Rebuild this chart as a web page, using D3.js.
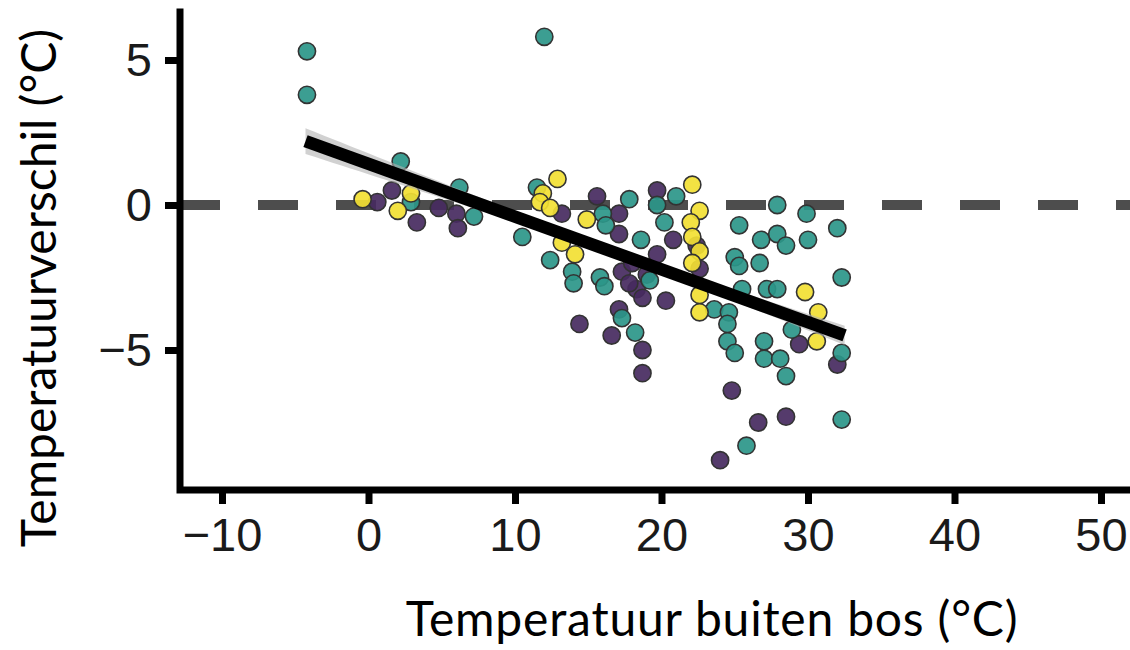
<!DOCTYPE html>
<html>
<head>
<meta charset="utf-8">
<script src="https://cdn.jsdelivr.net/npm/d3@7"></script>
<style>
  body { margin: 0; background: #fff; }
  svg { display: block; }
</style>
</head>
<body>
<svg id="chart" width="1130" height="650"></svg>
<script>
// Axis ticks
const xTicks = [-10, 0, 10, 20, 30, 40, 50];
const yTicks = [-5, 0, 5];

// Measurements per group: [temperature outside forest, temperature difference]
const purplePts = [
  [0.6, 0.1], [1.6, 0.5], [3.3, -0.6], [4.8, -0.1], [6.0, -0.3], [6.1, -0.8],
  [13.2, -0.3], [15.6, 0.3], [17.1, -0.3], [19.7, 0.5], [17.1, -1.0], [20.8, -1.2],
  [19.7, -1.7], [17.3, -2.3], [18.3, -2.9], [18.7, -3.2], [20.3, -3.3], [17.1, -3.6],
  [14.4, -4.1], [16.6, -4.5], [18.7, -5.0], [18.7, -5.8], [24.8, -6.4], [26.6, -7.5],
  [28.5, -7.3], [24.0, -8.8], [29.4, -4.8], [32.0, -5.5], [22.4, -1.4], [22.6, -2.2],
  [18.0, -2.0], [19.0, -2.4], [17.8, -2.7]
];
const tealPts = [
  [-4.2, 5.3], [-4.2, 3.8], [12.0, 5.8], [2.2, 1.5], [2.9, 0.1], [6.2, 0.6],
  [7.2, -0.4], [10.5, -1.1], [11.5, 0.6], [12.4, -1.9], [16.0, -0.3], [16.2, -0.7],
  [17.8, 0.2], [19.7, 0.0], [21.0, 0.3], [20.2, -0.6], [18.6, -1.2], [13.9, -2.3],
  [14.0, -2.7], [15.8, -2.5], [16.1, -2.8], [19.2, -2.6], [17.3, -3.9], [18.2, -4.4],
  [23.6, -3.6], [24.6, -3.7], [24.5, -4.1], [24.5, -4.7], [25.0, -5.1], [25.8, -8.3],
  [32.3, -7.4], [27.9, 0.0], [29.9, -0.3], [32.0, -0.8], [25.3, -0.7], [26.8, -1.2],
  [27.9, -1.0], [28.5, -1.4], [30.0, -1.2], [25.0, -1.8], [25.3, -2.1], [26.7, -2.0],
  [32.3, -2.5], [25.5, -2.9], [27.2, -2.9], [27.9, -2.9], [28.9, -4.3], [27.0, -4.7],
  [27.0, -5.3], [28.1, -5.3], [28.5, -5.9], [32.3, -5.1]
];
const yellowPts = [
  [-0.4, 0.2], [2.9, 0.4], [2.0, -0.2], [12.9, 0.9], [11.9, 0.4], [11.7, 0.1],
  [12.4, -0.1], [14.9, -0.5], [13.2, -1.3], [14.1, -1.7], [22.1, 0.7], [22.6, -0.2],
  [22.0, -0.6], [22.1, -1.1], [22.6, -1.6], [22.1, -2.0], [22.6, -3.1], [22.6, -3.7],
  [29.8, -3.0], [30.7, -3.7], [30.6, -4.7]
];

// Linear fit and its confidence band
const fitIntercept = 1.42;
const fitSlope = -0.182;
const fitRange = [-4.3, 32.5];
const ciCentre = 17, ciBase = 0.12, ciGrowth = 0.02;

const svg = d3.select("#chart");
const x = d3.scaleLinear().domain([-10, 50]).range([222, 1101]);
const y = d3.scaleLinear().domain([-5, 5]).range([350, 60]);

const axisX0 = 180, axisY0 = 490, axisTop = 12, axisRight = 1130;

// Reference line at zero difference
svg.append("line")
  .attr("x1", axisX0).attr("x2", axisRight)
  .attr("y1", y(0)).attr("y2", y(0))
  .attr("stroke", "#4d4d4d").attr("stroke-width", 10)
  .attr("stroke-dasharray", "40 38");

// Points
const groups = [
  { pts: purplePts, fill: "#472a60" },
  { pts: tealPts, fill: "#2b9689" },
  { pts: yellowPts, fill: "#f2e033" }
];
groups.forEach(g => {
  svg.append("g").selectAll("circle").data(g.pts).join("circle")
    .attr("cx", d => x(d[0])).attr("cy", d => y(d[1]))
    .attr("r", 8.6)
    .attr("fill", g.fill).attr("fill-opacity", 0.92)
    .attr("stroke", "#333").attr("stroke-width", 1.6);
});

// Confidence band + fit line
const fitAt = v => fitIntercept + fitSlope * v;
const half = v => Math.sqrt(ciBase * ciBase + ciGrowth * ciGrowth * (v - ciCentre) ** 2);
const xs = d3.range(fitRange[0], fitRange[1] + 0.001, (fitRange[1] - fitRange[0]) / 60);
svg.append("path")
  .datum(xs)
  .attr("d", d3.area().x(v => x(v)).y0(v => y(fitAt(v) - half(v))).y1(v => y(fitAt(v) + half(v))))
  .attr("fill", "#b3b3b3").attr("fill-opacity", 0.6);
svg.append("line")
  .attr("x1", x(fitRange[0])).attr("y1", y(fitAt(fitRange[0])))
  .attr("x2", x(fitRange[1])).attr("y2", y(fitAt(fitRange[1])))
  .attr("stroke", "#000").attr("stroke-width", 12.5);

// Axes
const tickFont = "'Liberation Sans', Arial, Helvetica, sans-serif";
const yAxis = svg.append("g").attr("transform", `translate(${axisX0},0)`)
  .call(d3.axisLeft(y).tickValues(yTicks).tickSize(15).tickPadding(13));
const xAxis = svg.append("g").attr("transform", `translate(0,${axisY0})`)
  .call(d3.axisBottom(x).tickValues(xTicks).tickSize(14).tickPadding(14));
[yAxis, xAxis].forEach(a => {
  a.select(".domain").remove();
  a.selectAll(".tick line").attr("stroke", "#000").attr("stroke-width", 7);
  a.selectAll(".tick text").attr("fill", "#1a1a1a")
    .style("font-family", tickFont).style("font-size", "47px");
});

svg.append("path")
  .attr("d", `M${axisX0},${axisTop}V${axisY0}H${axisRight}`)
  .attr("fill", "none").attr("stroke", "#000").attr("stroke-width", 7)
  .attr("stroke-linecap", "square");

// Axis titles
const titleFont = "Lato, 'Open Sans', sans-serif";
svg.append("text")
  .attr("x", 712).attr("y", 636)
  .attr("text-anchor", "middle")
  .style("font-family", titleFont).style("font-size", "48px")
  .style("letter-spacing", "0.8px").attr("fill", "#000")
  .text("Temperatuur buiten bos (°C)");
svg.append("text")
  .attr("transform", "translate(56,288) rotate(-90)")
  .attr("text-anchor", "middle")
  .style("font-family", titleFont).style("font-size", "48px").attr("fill", "#000")
  .text("Temperatuurverschil (°C)");
</script>
</body>
</html>
